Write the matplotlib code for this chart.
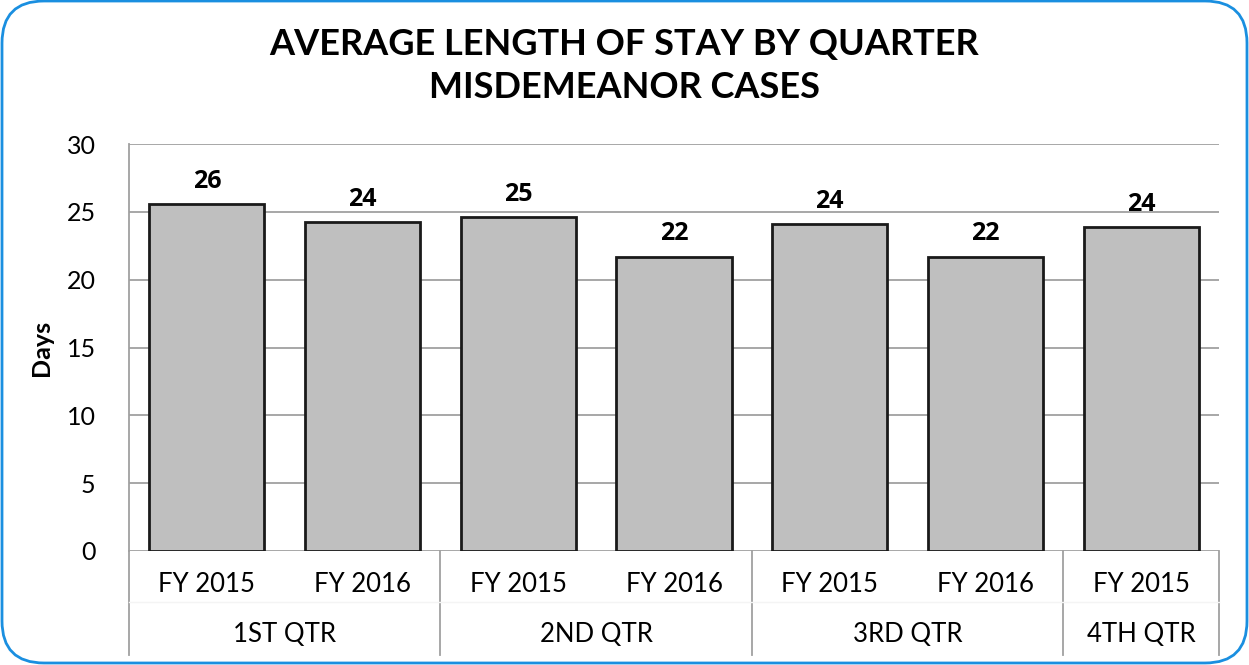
import numpy as np
import matplotlib.pyplot as plt
from matplotlib.patches import FancyBboxPatch
from matplotlib.transforms import blended_transform_factory

# data
years = ["FY 2015", "FY 2016", "FY 2015", "FY 2016", "FY 2015", "FY 2016", "FY 2015"]
quarters = ["1ST QTR", "2ND QTR", "3RD QTR", "4TH QTR"]
quarter_sizes = [2, 2, 2, 1]
days = [25.6, 24.25, 24.6, 21.7, 24.1, 21.7, 23.9]

plt.rcParams['font.family'] = ['Lato', 'DejaVu Sans']

W, H = 1249, 665
fig = plt.figure(figsize=(W / 100, H / 100), dpi=100)

# rounded blue frame drawn in pixel space
bg = fig.add_axes([0, 0, 1, 1], zorder=-1)
bg.set_xlim(0, W)
bg.set_ylim(H, 0)
bg.axis('off')
bg.add_patch(FancyBboxPatch((2, 1), W - 4, H - 3,
                            boxstyle="round,pad=0,rounding_size=42",
                            facecolor='white', edgecolor='#1a8fe0', lw=2))

ax = fig.add_axes([129 / W, 1 - 551 / H, (1219 - 129) / W, (551 - 144) / H])
ax.patch.set_alpha(0)

x = np.arange(len(days))
ax.bar(x, days, width=0.74, color='#bfbfbf', edgecolor='#1a1a1a', lw=2, zorder=3)
for xi, v in zip(x, days):
    ax.text(xi, v + 0.75, f"{v:.0f}", ha='center', va='bottom', fontsize=18,
            fontweight='bold', family=['Open Sans', 'DejaVu Sans'])

ax.set_xlim(-0.5, len(days) - 0.5)
ax.set_ylim(0, 30)
ax.set_yticks(range(0, 31, 5))
ax.tick_params(axis='y', length=0, labelsize=18, pad=24)
ax.set_xticks([])
ax.yaxis.grid(True, color='#a0a0a0', lw=1.3, zorder=0)
for s in ['top', 'right', 'bottom']:
    ax.spines[s].set_visible(False)
ax.spines['left'].set_color('#a0a0a0')
ax.spines['left'].set_linewidth(1.3)
ax.set_ylabel("Days", fontsize=18, fontweight='bold', labelpad=10)

# two-level category axis
tr = blended_transform_factory(ax.transData, ax.transAxes)
ybot = -(655 - 551) / 407
for xi, lab in zip(x, years):
    ax.text(xi, -(585 - 551) / 407, lab, transform=tr, ha='center', va='center', fontsize=18.5)
start = 0
bounds = [-0.5]
for q, n in zip(quarters, quarter_sizes):
    ax.text(start + (n - 1) / 2, -(635 - 551) / 407, q, transform=tr,
            ha='center', va='center', fontsize=18.5)
    start += n
    bounds.append(start - 0.5)
for b in bounds:
    ax.plot([b, b], [0, ybot], transform=tr, color='#a0a0a0', lw=1.3, clip_on=False)
ax.plot([-0.5, len(days) - 0.5], [-(602 - 551) / 407] * 2, transform=tr,
        color='#f4f4f4', lw=1, clip_on=False)

fig.text(0.5, 1 - 45 / H, "AVERAGE LENGTH OF STAY BY QUARTER", ha='center', va='center',
         fontsize=26, fontweight='bold')
fig.text(0.5, 1 - 88 / H, "MISDEMEANOR CASES", ha='center', va='center',
         fontsize=26, fontweight='bold')

fig.savefig("out.png", dpi=100)
